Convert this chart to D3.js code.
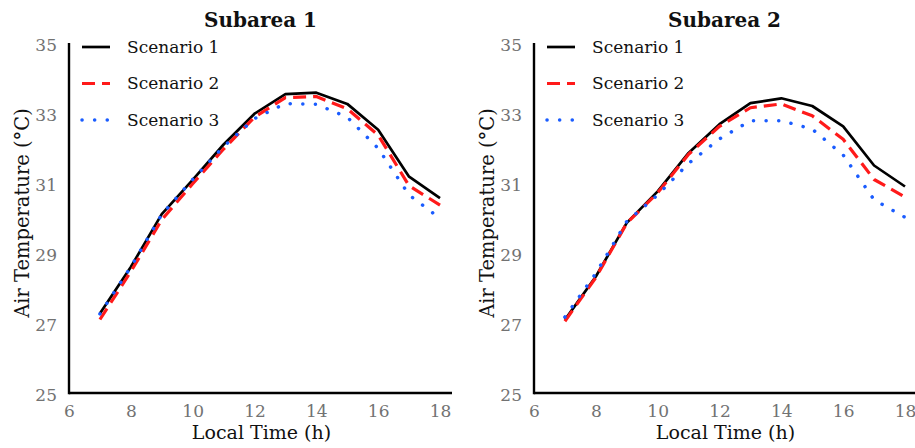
<!DOCTYPE html>
<html>
<head>
<meta charset="utf-8">
<script src="https://cdn.jsdelivr.net/npm/d3@7"></script>
<style>
  html, body { margin: 0; padding: 0; background: #fff; }
  svg { display: block; }
  text { font-family: Georgia, "DejaVu Serif", "Liberation Serif", serif; }
</style>
</head>
<body>
<svg id="chart" width="915" height="448"></svg>
<script>
// ---- data ----
const hours = [7, 8, 9, 10, 11, 12, 13, 14, 15, 16, 17, 18];
const seriesNames = ["Scenario 1", "Scenario 2", "Scenario 3"];
const panelTitles = ["Subarea 1", "Subarea 2"];

const sub1_s1 = [27.27, 28.6, 30.11, 31.09, 32.1, 32.98, 33.54, 33.58, 33.26, 32.52, 31.18, 30.57];
const sub1_s2 = [27.1, 28.47, 29.95, 30.98, 31.97, 32.88, 33.44, 33.47, 33.12, 32.37, 30.92, 30.37];
const sub1_s3 = [27.26, 28.6, 30.1, 31.1, 32.04, 32.84, 33.27, 33.25, 32.88, 31.99, 30.66, 29.99];

const sub2_s1 = [27.09, 28.33, 29.86, 30.76, 31.86, 32.68, 33.28, 33.42, 33.2, 32.62, 31.5, 30.9];
const sub2_s2 = [27.05, 28.3, 29.85, 30.72, 31.82, 32.62, 33.15, 33.26, 32.92, 32.25, 31.1, 30.6];
const sub2_s3 = [27.17, 28.42, 29.9, 30.66, 31.56, 32.26, 32.78, 32.78, 32.54, 31.8, 30.52, 30.02];

const xTicks = [6, 8, 10, 12, 14, 16, 18];
const yTicks = [25, 27, 29, 31, 33, 35];
const xLabel = "Local Time (h)";
const yLabel = "Air Temperature (°C)";

// ---- layout ----
const svg = d3.select("#chart");
const panels = [
  { title: panelTitles[0], data: [sub1_s1, sub1_s2, sub1_s3], left: 69, axisEnd: 452, labelX: 29 },
  { title: panelTitles[1], data: [sub2_s1, sub2_s2, sub2_s3], left: 534, axisEnd: 915, labelX: 494 }
];
const plotTop = 43, plotBottom = 393;
const styles = [
  { color: "#000000", width: 2.7, dash: null, cap: "butt" },
  { color: "#ff1a1a", width: 3.2, dash: "13,7", cap: "butt" },
  { color: "#1a5cff", width: 3.5, dash: "0.1,12.5", cap: "round" }
];

panels.forEach(p => {
  const x = d3.scaleLinear().domain([6, 18]).range([p.left, p.left + 371]);
  const y = d3.scaleLinear().domain([25, 35]).range([plotBottom, plotTop]);
  const g = svg.append("g");

  // axes
  const xAxis = d3.axisBottom(x).tickValues(xTicks).tickSize(0).tickPadding(12);
  const yAxis = d3.axisLeft(y).tickValues(yTicks).tickSize(0).tickPadding(12);
  const gx = g.append("g").attr("transform", `translate(0,${plotBottom})`).call(xAxis);
  const gy = g.append("g").attr("transform", `translate(${p.left},0)`).call(yAxis);
  [gx, gy].forEach(a => {
    a.select(".domain").remove();
    a.selectAll("text").attr("fill", "#727272").style("font-size", "17px")
      .style("font-family", "Georgia, 'DejaVu Serif', serif");
  });
  gy.selectAll("text").attr("dy", "0.45em");
  g.append("line").attr("x1", p.left).attr("x2", p.axisEnd).attr("y1", plotBottom).attr("y2", plotBottom)
    .attr("stroke", "#000").attr("stroke-width", 2.4);
  g.append("line").attr("x1", p.left).attr("x2", p.left).attr("y1", plotTop).attr("y2", plotBottom + 1.2)
    .attr("stroke", "#000").attr("stroke-width", 2.4);

  // lines
  const line = d3.line().x((d, i) => x(hours[i])).y(d => y(d));
  p.data.forEach((vals, k) => {
    const s = styles[k];
    g.append("path").datum(vals).attr("d", line)
      .attr("fill", "none").attr("stroke", s.color).attr("stroke-width", s.width)
      .attr("stroke-dasharray", s.dash).attr("stroke-linecap", s.cap)
      .attr("stroke-linejoin", "round");
  });

  // legend
  seriesNames.forEach((name, k) => {
    const s = styles[k];
    const ly = 47 + k * 36.5;
    g.append("line").attr("x1", p.left + 13).attr("x2", p.left + 41).attr("y1", ly).attr("y2", ly)
      .attr("stroke", s.color).attr("stroke-width", s.width)
      .attr("stroke-dasharray", s.dash).attr("stroke-linecap", s.cap);
    g.append("text").attr("x", p.left + 58).attr("y", ly).attr("dy", "0.35em")
      .style("font-size", "17px").attr("fill", "#111").text(name);
  });

  // title
  g.append("text").attr("x", (p.left + p.axisEnd) / 2).attr("y", 27)
    .attr("text-anchor", "middle").style("font-size", "20px").style("font-weight", "bold")
    .attr("fill", "#111").text(p.title);

  // axis labels
  g.append("text").attr("x", (p.left + p.axisEnd) / 2 + 1).attr("y", 439).attr("text-anchor", "middle")
    .style("font-size", "19px").attr("fill", "#111").text(xLabel);
  g.append("text").attr("transform", `translate(${p.labelX},213) rotate(-90)`)
    .attr("text-anchor", "middle").style("font-size", "19.5px").attr("fill", "#111").text(yLabel);
});
</script>
</body>
</html>
